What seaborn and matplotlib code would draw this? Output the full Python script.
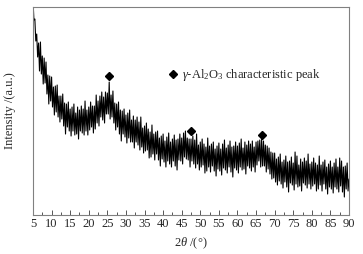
import numpy as np
import matplotlib
matplotlib.use("Agg")
import matplotlib.pyplot as plt
import seaborn as sns
from matplotlib.lines import Line2D

sns.set_style("ticks")
plt.rcParams['font.family'] = ['Liberation Serif', 'DejaVu Serif']
plt.rcParams['mathtext.fontset'] = 'custom'
plt.rcParams['mathtext.rm'] = 'Liberation Serif'
plt.rcParams['mathtext.it'] = 'Liberation Serif:italic'

# XRD 數據 (2θ 每 0.25° 一點, 強度為任意單位)
two_theta = np.arange(5, 90.001, 0.25)
intensity = [
    214, 195, 196, 174, 181, 158, 172, 144, 173, 141, 159, 131, 157, 132, 153, 121, 140, 111, 139, 114,  # 5-9.75
    138, 108, 128, 100, 129, 103, 130, 98, 119, 93, 119, 96, 121, 89, 112, 81, 111, 88, 113, 84,  # 10-14.75
    106, 79, 108, 84, 111, 80, 102, 81, 108, 76, 105, 84, 109, 82, 106, 80, 114, 84, 105, 80,  # 15-19.75
    108, 85, 113, 88, 109, 82, 109, 86, 120, 92, 114, 89, 119, 98, 123, 95, 118, 92, 123, 101,  # 20-24.75
    122, 101, 133, 96, 120, 98, 124, 92, 112, 85, 111, 88, 113, 81, 105, 74, 104, 81, 106, 78,  # 25-29.75
    100, 72, 102, 77, 105, 73, 95, 73, 99, 67, 95, 73, 98, 70, 93, 65, 98, 68, 87, 62,  # 30-34.75
    89, 64, 92, 65, 86, 57, 83, 58, 90, 61, 81, 55, 83, 61, 84, 55, 77, 49, 79, 56,  # 35-39.75
    81, 53, 74, 48, 78, 54, 82, 51, 73, 48, 76, 54, 80, 49, 75, 45, 76, 55, 81, 54,  # 40-44.75
    77, 51, 82, 58, 84, 56, 77, 55, 76, 48, 76, 54, 79, 51, 75, 47, 81, 51, 70, 45,  # 45-49.75
    73, 48, 76, 50, 71, 42, 68, 44, 77, 48, 69, 43, 71, 49, 73, 44, 66, 39, 69, 46,  # 50-54.75
    72, 44, 66, 40, 71, 47, 75, 45, 67, 42, 70, 48, 74, 43, 68, 38, 69, 47, 73, 45,  # 55-59.75
    69, 42, 72, 48, 76, 45, 67, 46, 73, 41, 70, 49, 74, 47, 71, 44, 74, 48, 68, 43,  # 60-64.75
    73, 50, 74, 54, 75, 48, 76, 49, 74, 49, 70, 43, 69, 46, 67, 41, 63, 36, 62, 37,  # 65-69.75
    62, 33, 56, 30, 58, 34, 61, 31, 53, 27, 55, 33, 59, 28, 53, 23, 54, 32, 58, 30,  # 70-74.75
    52, 25, 63, 31, 59, 28, 50, 29, 56, 24, 53, 32, 57, 30, 54, 27, 61, 31, 51, 26,  # 75-79.75
    53, 29, 57, 31, 52, 24, 50, 26, 59, 30, 50, 24, 53, 31, 55, 26, 48, 21, 51, 28,  # 80-84.75
    54, 26, 48, 22, 52, 28, 56, 26, 48, 23, 57, 29, 54, 23, 48, 18, 49, 26, 52, 24,  # 85-89.75
    36,
]

# γ-Al2O3 特徵峰位置與標記高度
peak_pos = [25.5, 47.5, 66.6]
peak_mark = [139, 84, 80]

fig = plt.figure(figsize=(3.63, 2.54), dpi=100)
ax = fig.add_axes([0.0909, 0.1535, 0.8705, 0.8189])

sns.lineplot(x=two_theta, y=intensity, ax=ax, color='black', lw=0.8)
ax.plot(peak_pos, peak_mark, 'D', color='black', ms=4.5, ls='none')

ax.set_xlim(5, 90)
ax.set_ylim(0, 208)
ax.set_xticks(np.arange(5, 91, 5))
ax.set_xticks(np.arange(7.5, 90, 5), minor=True)
ax.set_yticks([])
ax.tick_params(axis='x', direction='in', length=3.5, width=0.7, color='#555555',
               labelsize=9, pad=2.5)
ax.tick_params(axis='x', which='minor', direction='in', length=2, width=0.7, color='#555555')
for s in ax.spines.values():
    s.set_color('#808080')
    s.set_linewidth(0.8)

ax.set_xlabel(r'$\mathit{2\theta}$ /(°)', fontsize=9, labelpad=4)
ax.set_ylabel('Intensity /(a.u.)', fontsize=9, labelpad=12)

handle = Line2D([], [], marker='D', color='black', ms=4.5, ls='none')
ax.legend([handle], [r'$\mathit{\gamma}$-Al$_2$O$_3$ characteristic peak'],
          loc='center left', bbox_to_anchor=(0.431, 0.673), frameon=False,
          fontsize=9, handlelength=0.6, handletextpad=0.4, borderaxespad=0,
          borderpad=0)

fig.savefig('out.png', dpi=100)
